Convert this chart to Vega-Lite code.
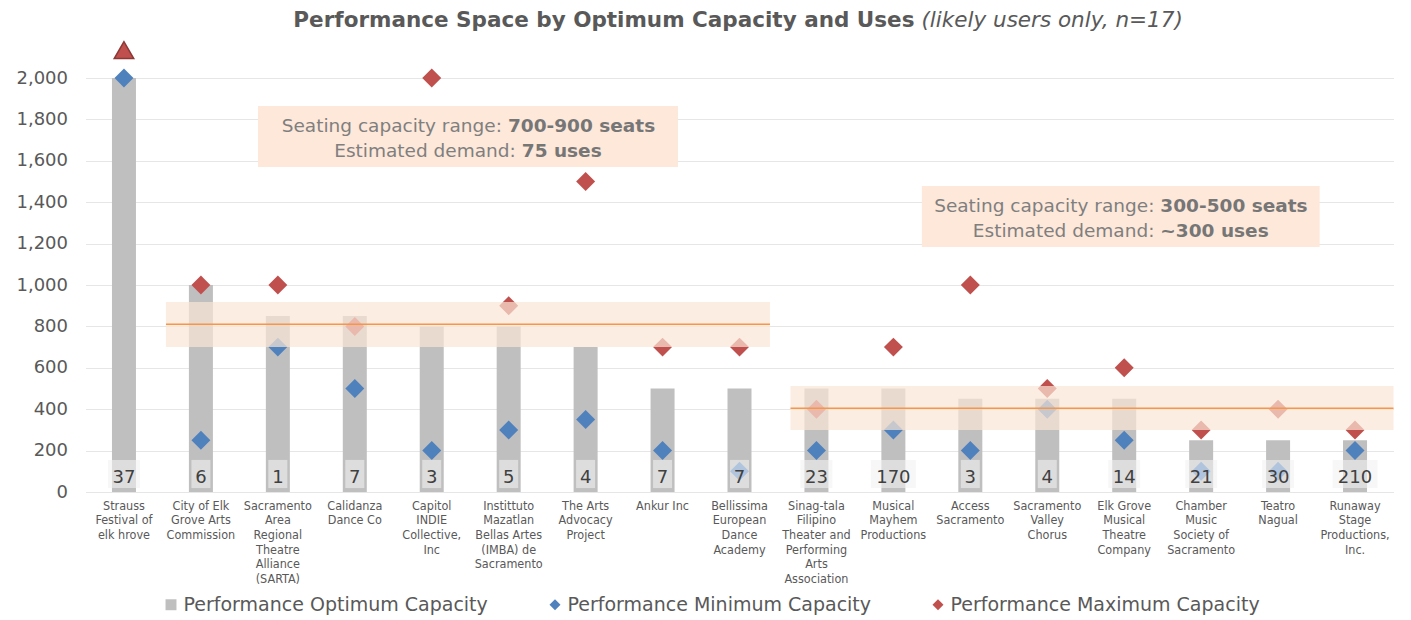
{
  "$schema": "https://vega.github.io/schema/vega-lite/v6.json",
  "width": 1308,
  "height": 445,
  "autosize": {"type": "none"},
  "padding": {"left": 85.5, "top": 47, "right": 17.5, "bottom": 128},
  "background": "white",
  "config": {
    "view": {"stroke": null},
    "font": "DejaVu Sans",
    "axisY": {
      "tickCount": 11,
      "format": ",d",
      "domain": false,
      "ticks": false,
      "gridColor": "#E6E6E6",
      "gridWidth": 1.2,
      "labelColor": "#595959",
      "labelFontSize": 18,
      "labelPadding": 18,
      "title": null
    },
    "legend": {
      "orient": "none",
      "legendX": 76,
      "legendY": 548,
      "direction": "horizontal",
      "labelFontSize": 19,
      "labelColor": "#595959",
      "labelFont": "DejaVu Sans",
      "symbolSize": 120,
      "symbolOpacity": 1,
      "columnPadding": 57,
      "labelOffset": 3,
      "labelLimit": 0
    }
  },
  "resolve": {"scale": {"x": "independent"}, "axis": {"x": "independent"}},
  "layer": [
    {
      "data": {
        "values": [
          {"org": "Strauss|Festival of|elk hrove", "opt": 2000, "min": 2000, "max": null, "uses": 37},
          {"org": "City of Elk|Grove Arts|Commission", "opt": 1000, "min": 250, "max": 1000, "uses": 6},
          {"org": "Sacramento|Area|Regional|Theatre|Alliance|(SARTA)", "opt": 850, "min": 700, "max": 1000, "uses": 1},
          {"org": "Calidanza|Dance Co", "opt": 850, "min": 500, "max": 800, "uses": 7},
          {"org": "Capitol|INDIE|Collective,|Inc", "opt": 800, "min": 200, "max": 2000, "uses": 3},
          {"org": "Instittuto|Mazatlan|Bellas Artes|(IMBA) de|Sacramento", "opt": 800, "min": 300, "max": 900, "uses": 5},
          {"org": "The Arts|Advocacy|Project", "opt": 700, "min": 350, "max": 1500, "uses": 4},
          {"org": "Ankur Inc", "opt": 500, "min": 200, "max": 700, "uses": 7},
          {"org": "Bellissima|European|Dance|Academy", "opt": 500, "min": 100, "max": 700, "uses": 7},
          {"org": "Sinag-tala|Filipino|Theater and|Performing|Arts|Association", "opt": 500, "min": 200, "max": 400, "uses": 23},
          {"org": "Musical|Mayhem|Productions", "opt": 500, "min": 300, "max": 700, "uses": 170},
          {"org": "Access|Sacramento", "opt": 450, "min": 200, "max": 1000, "uses": 3},
          {"org": "Sacramento|Valley|Chorus", "opt": 450, "min": 400, "max": 500, "uses": 4},
          {"org": "Elk Grove|Musical|Theatre|Company", "opt": 450, "min": 250, "max": 600, "uses": 14},
          {"org": "Chamber|Music|Society of|Sacramento", "opt": 250, "min": 100, "max": 300, "uses": 21},
          {"org": "Teatro|Nagual", "opt": 250, "min": 100, "max": 400, "uses": 30},
          {"org": "Runaway|Stage|Productions,|Inc.", "opt": 250, "min": 200, "max": 300, "uses": 210}
        ]
      },
      "encoding": {
        "x": {
          "field": "org",
          "type": "nominal",
          "sort": null,
          "scale": {
            "domain": [
              "Strauss|Festival of|elk hrove",
              "City of Elk|Grove Arts|Commission",
              "Sacramento|Area|Regional|Theatre|Alliance|(SARTA)",
              "Calidanza|Dance Co",
              "Capitol|INDIE|Collective,|Inc",
              "Instittuto|Mazatlan|Bellas Artes|(IMBA) de|Sacramento",
              "The Arts|Advocacy|Project",
              "Ankur Inc",
              "Bellissima|European|Dance|Academy",
              "Sinag-tala|Filipino|Theater and|Performing|Arts|Association",
              "Musical|Mayhem|Productions",
              "Access|Sacramento",
              "Sacramento|Valley|Chorus",
              "Elk Grove|Musical|Theatre|Company",
              "Chamber|Music|Society of|Sacramento",
              "Teatro|Nagual",
              "Runaway|Stage|Productions,|Inc."
            ],
            "paddingInner": 0,
            "paddingOuter": 0
          },
          "axis": {
            "labelExpr": "split(datum.value, '|')",
            "labelAngle": 0,
            "labelFontSize": 12.5,
            "labelFont": "DejaVu Sans Condensed, Liberation Sans Narrow, Liberation Sans",
            "labelColor": "#595959",
            "labelLineHeight": 14.7,
            "labelPadding": 7,
            "labelBaseline": "top",
            "labelOverlap": false,
            "labelLimit": 0,
            "ticks": false,
            "domain": false,
            "title": null
          }
        }
      },
      "layer": [
        {
          "mark": {"type": "bar", "width": 24},
          "encoding": {
            "y": {"field": "opt", "type": "quantitative", "title": null, "scale": {"domain": [0, 2150], "nice": false}},
            "color": {
              "datum": "Performance Optimum Capacity",
              "title": null,
              "scale": {
                "domain": ["Performance Optimum Capacity", "Performance Minimum Capacity", "Performance Maximum Capacity"],
                "range": ["#BFBFBF", "#4F81BD", "#C0504D"]
              }
            }
          }
        },
        {
          "mark": {"type": "point", "filled": true, "size": 360, "opacity": 1},
          "encoding": {
            "y": {"field": "min", "type": "quantitative", "title": null, "scale": {"domain": [0, 2150], "nice": false}},
            "color": {"datum": "Performance Minimum Capacity", "title": null},
            "shape": {
              "datum": "Performance Minimum Capacity",
              "title": null,
              "scale": {
                "domain": ["Performance Optimum Capacity", "Performance Minimum Capacity", "Performance Maximum Capacity"],
                "range": ["square", "diamond", "diamond"]
              }
            }
          }
        },
        {
          "mark": {"type": "point", "filled": true, "size": 360, "opacity": 1},
          "encoding": {
            "y": {"field": "max", "type": "quantitative", "title": null, "scale": {"domain": [0, 2150], "nice": false}},
            "color": {"datum": "Performance Maximum Capacity", "title": null},
            "shape": {"datum": "Performance Maximum Capacity", "title": null}
          }
        },
        {
          "mark": {"type": "bar", "fill": "#F2F2F2", "opacity": 0.6},
          "encoding": {
            "y": {"datum": 155, "type": "quantitative", "title": null, "scale": {"domain": [0, 2150], "nice": false}},
            "y2": {"datum": 19},
            "size": {
              "condition": [
                {"test": "datum.uses >= 100", "value": 45},
                {"test": "datum.uses >= 10", "value": 32}
              ],
              "value": 19
            }
          }
        },
        {
          "mark": {"type": "text", "fontSize": 18, "color": "#404040", "baseline": "alphabetic", "font": "DejaVu Sans"},
          "encoding": {
            "y": {"datum": 45, "type": "quantitative", "title": null, "scale": {"domain": [0, 2150], "nice": false}},
            "text": {"field": "uses", "type": "quantitative"}
          }
        },
        {
          "data": {"values": [{"org": "Strauss|Festival of|elk hrove", "overflow": 2135}]},
          "mark": {"type": "point", "shape": "triangle-up", "filled": true, "fill": "#C0504D", "stroke": "#8C3836", "strokeWidth": 1.5, "size": 380, "opacity": 1},
          "encoding": {
            "y": {"field": "overflow", "type": "quantitative", "title": null, "scale": {"domain": [0, 2150], "nice": false}}
          }
        }
      ]
    },
    {
      "layer": [
        {
          "data": {"values": [
            {"x1": 1.046, "x2": 8.896, "lo": 700, "hi": 918, "mid": 810},
            {"x1": 9.163, "x2": 17, "lo": 300, "hi": 512, "mid": 405}
          ]},
          "layer": [
            {
              "mark": {"type": "rect", "fill": "#FBE5D6", "opacity": 0.7},
              "encoding": {
                "x": {"field": "x1", "type": "quantitative", "scale": {"domain": [0, 17], "nice": false, "zero": false}, "axis": null},
                "x2": {"field": "x2"},
                "y": {"field": "lo", "type": "quantitative", "title": null, "scale": {"domain": [0, 2150], "nice": false}},
                "y2": {"field": "hi"}
              }
            },
            {
              "mark": {"type": "rule", "color": "#F79646", "strokeWidth": 1.5},
              "encoding": {
                "x": {"field": "x1", "type": "quantitative", "scale": {"domain": [0, 17], "nice": false, "zero": false}, "axis": null},
                "x2": {"field": "x2"},
                "y": {"field": "mid", "type": "quantitative", "title": null, "scale": {"domain": [0, 2150], "nice": false}}
              }
            }
          ]
        },
        {
          "data": {"values": [
            {"x1": 2.242, "x2": 7.70, "lo": 1570, "hi": 1865},
            {"x1": 10.87, "x2": 16.04, "lo": 1184, "hi": 1478}
          ]},
          "mark": {"type": "rect", "fill": "#FDE8DA"},
          "encoding": {
            "x": {"field": "x1", "type": "quantitative", "scale": {"domain": [0, 17], "nice": false, "zero": false}, "axis": null},
            "x2": {"field": "x2"},
            "y": {"field": "lo", "type": "quantitative", "title": null, "scale": {"domain": [0, 2150], "nice": false}},
            "y2": {"field": "hi"}
          }
        },
        {
          "data": {"values": [
            {"x": 5.49, "y": 1741, "t": "Seating capacity range:"},
            {"x": 5.67, "y": 1620, "t": "Estimated demand:"},
            {"x": 13.97, "y": 1354, "t": "Seating capacity range:"},
            {"x": 13.97, "y": 1233, "t": "Estimated demand:"}
          ]},
          "mark": {"type": "text", "align": "right", "baseline": "alphabetic", "dx": -6, "fontSize": 18.5, "color": "#7F7F7F", "font": "DejaVu Sans"},
          "encoding": {
            "x": {"field": "x", "type": "quantitative", "scale": {"domain": [0, 17], "nice": false, "zero": false}, "axis": null},
            "y": {"field": "y", "type": "quantitative", "title": null, "scale": {"domain": [0, 2150], "nice": false}},
            "text": {"field": "t"}
          }
        },
        {
          "data": {"values": [
            {"x": 5.49, "y": 1741, "t": "700-900 seats"},
            {"x": 5.67, "y": 1620, "t": "75 uses"},
            {"x": 13.97, "y": 1354, "t": "300-500 seats"},
            {"x": 13.97, "y": 1233, "t": "~300 uses"}
          ]},
          "mark": {"type": "text", "align": "left", "baseline": "alphabetic", "fontSize": 18.5, "fontWeight": "bold", "color": "#767676", "font": "DejaVu Sans"},
          "encoding": {
            "x": {"field": "x", "type": "quantitative", "scale": {"domain": [0, 17], "nice": false, "zero": false}, "axis": null},
            "y": {"field": "y", "type": "quantitative", "title": null, "scale": {"domain": [0, 2150], "nice": false}},
            "text": {"field": "t"}
          }
        },
        {
          "data": {"values": [{"x": 10.774, "y": 2246, "t": "Performance Space by Optimum Capacity and Uses"}]},
          "mark": {"type": "text", "align": "right", "baseline": "alphabetic", "fontSize": 21.5, "fontWeight": "bold", "color": "#595959", "font": "DejaVu Sans"},
          "encoding": {
            "x": {"field": "x", "type": "quantitative", "scale": {"domain": [0, 17], "nice": false, "zero": false}, "axis": null},
            "y": {"field": "y", "type": "quantitative", "title": null, "scale": {"domain": [0, 2150], "nice": false}},
            "text": {"field": "t"}
          }
        },
        {
          "data": {"values": [{"x": 10.774, "y": 2246, "t": "(likely users only, n=17)"}]},
          "mark": {"type": "text", "align": "left", "baseline": "alphabetic", "dx": 7, "fontSize": 21.5, "fontStyle": "italic", "color": "#595959", "font": "DejaVu Sans"},
          "encoding": {
            "x": {"field": "x", "type": "quantitative", "scale": {"domain": [0, 17], "nice": false, "zero": false}, "axis": null},
            "y": {"field": "y", "type": "quantitative", "title": null, "scale": {"domain": [0, 2150], "nice": false}},
            "text": {"field": "t"}
          }
        }
      ]
    }
  ]
}
